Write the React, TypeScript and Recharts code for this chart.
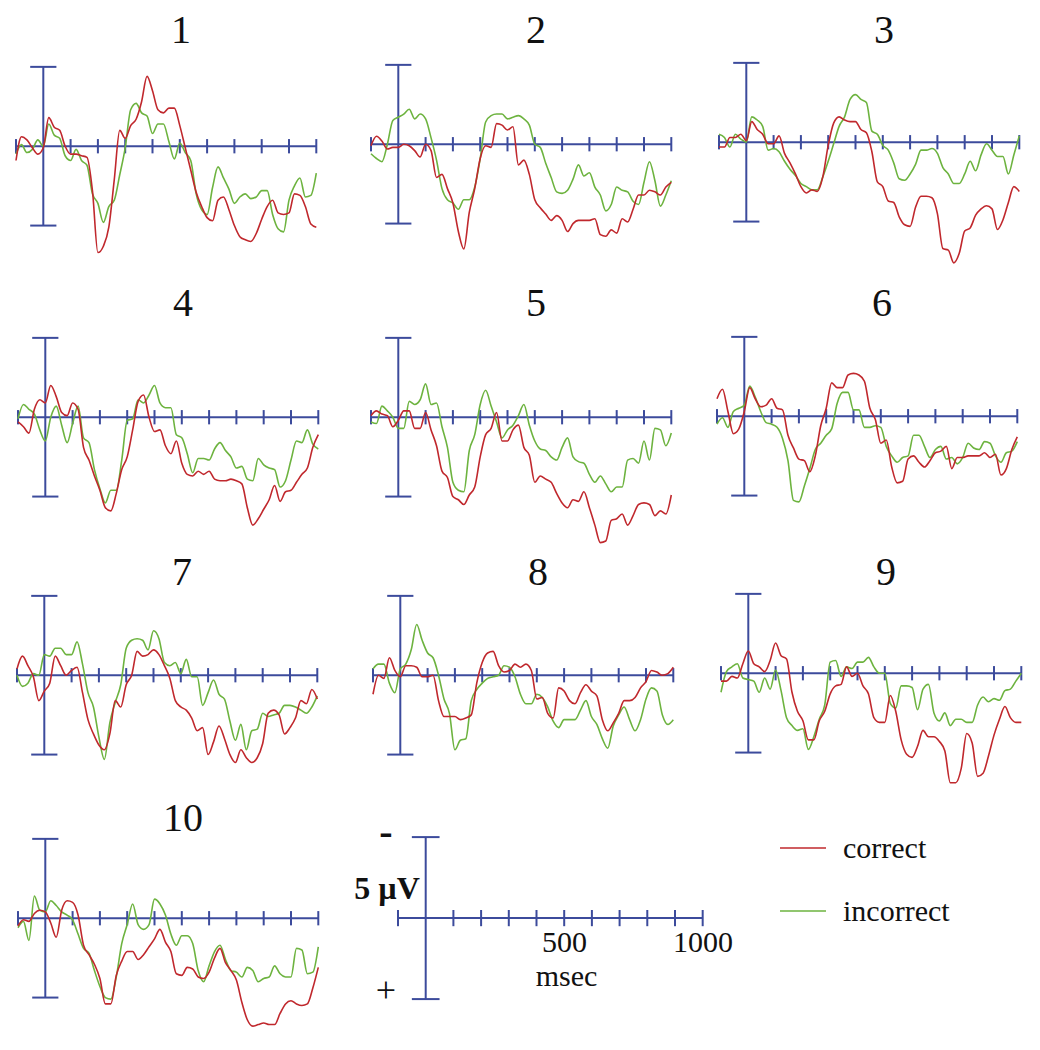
import { LineChart, Line, XAxis, YAxis, ReferenceLine } from 'recharts';

// time base shared by every panel (msec)
const TIME_MS = [
  -100, -80, -60, -40, -20, 0, 20, 40, 60, 80,
  100, 120, 140, 160, 180, 200, 220, 240, 260, 280,
  300, 320, 340, 360, 380, 400, 420, 440, 460, 480,
  500, 520, 540, 560, 580, 600, 620, 640, 660, 680,
  700, 720, 740, 760, 780, 800, 820, 840, 860, 880,
  900, 920, 940, 960, 980, 1000,
];

// amplitudes in µV, negative plotted up
const correct1 = [0.9, -0.6, -0.4, 0.1, 0.5, 0.1, -1.8, -1.2, -1.0, 0.0, 0.5, 0.5, 0.6, 0.7, 2.8, 6.7, 6.3, 5.1, 2.1, -1.0, -0.5, -1.3, -1.7, -2.8, -4.4, -3.5, -2.3, -2.1, -2.4, -2.4, -1.3, 0.1, 1.5, 2.9, 3.8, 4.5, 4.7, 3.4, 3.2, 4.0, 5.0, 5.7, 5.9, 6.0, 5.5, 4.6, 3.8, 3.4, 4.2, 4.3, 4.2, 3.0, 3.1, 3.8, 4.9, 5.1];
const incorrect1 = [0.5, -0.1, 0.4, 0.2, -0.4, 0.0, -1.4, -0.7, -0.5, 0.6, 0.9, 0.2, 0.9, 1.2, 3.0, 3.6, 4.8, 3.8, 3.4, 1.8, 0.1, -2.3, -2.7, -2.1, -1.9, -0.8, -1.4, -1.4, -0.3, 0.8, -0.2, 0.4, 0.9, 3.0, 4.0, 4.3, 2.6, 1.3, 2.0, 2.7, 3.6, 3.2, 3.0, 3.3, 3.2, 2.8, 2.8, 4.3, 5.2, 5.4, 3.4, 2.5, 2.0, 3.2, 3.1, 1.7];

const correct2 = [0.1, -0.5, -0.2, 0.3, 0.2, 0.2, 0.0, 0.1, 0.4, 0.8, 0.0, 0.4, 2.1, 1.9, 2.8, 3.7, 5.5, 6.6, 4.3, 2.8, 0.9, 0.1, 0.2, -1.3, -1.2, -0.9, -1.1, 1.3, 1.0, 1.9, 3.5, 4.0, 4.4, 4.8, 4.5, 4.8, 5.5, 5.0, 4.8, 4.8, 4.8, 4.7, 5.7, 5.8, 5.4, 5.6, 4.7, 4.9, 4.1, 3.2, 3.2, 2.9, 3.0, 3.2, 2.7, 2.4];
const incorrect2 = [0.6, 0.9, 1.1, 0.0, -1.5, -1.7, -1.9, -2.2, -1.6, -1.9, -1.6, -0.4, 1.0, 2.8, 3.5, 3.7, 4.1, 3.5, 3.5, 2.7, 0.9, -1.4, -1.8, -1.9, -1.9, -1.6, -1.7, -1.8, -1.6, -1.2, 0.0, 0.2, 1.2, 2.1, 3.0, 3.1, 2.9, 2.2, 1.3, 2.0, 1.8, 2.7, 3.2, 4.2, 3.8, 2.7, 2.9, 3.0, 3.6, 3.8, 2.4, 1.1, 2.3, 3.9, 3.2, 2.3];

const correct3 = [0.3, 0.3, -0.3, -0.3, -0.5, -0.1, -1.3, -0.8, -0.5, 0.1, 0.1, -0.4, 0.7, 1.3, 2.0, 2.8, 3.2, 3.0, 3.1, 2.2, 0.2, -1.2, -1.6, -1.4, -1.3, -1.3, -0.8, -0.6, 0.6, 2.5, 2.8, 3.7, 3.8, 4.7, 5.2, 5.3, 4.1, 3.4, 3.4, 3.5, 4.5, 6.7, 6.8, 7.6, 7.0, 5.6, 5.4, 4.6, 4.2, 4.0, 4.2, 5.5, 4.9, 3.8, 2.8, 3.1];
const incorrect3 = [-0.5, -0.3, 0.3, -0.5, -0.2, 0.0, -1.6, -1.4, -1.0, 0.5, 0.4, 0.6, 1.2, 1.7, 2.1, 2.6, 2.8, 3.0, 3.0, 2.2, 1.2, 0.1, -1.0, -1.6, -2.7, -3.0, -2.7, -2.5, -0.7, -0.5, 0.2, 0.5, 1.3, 2.3, 2.4, 2.0, 1.4, 0.5, 0.5, 0.4, 0.7, 1.6, 2.0, 2.6, 2.6, 2.0, 1.2, 1.8, 0.8, 0.1, 0.5, 0.9, 0.9, 2.0, 0.8, -0.4];

const correct4 = [0.3, 0.6, 1.0, -0.5, -1.1, -0.9, -2.0, -1.3, -0.3, -0.1, -0.9, -0.5, 1.9, 2.7, 3.7, 4.6, 5.7, 5.9, 4.8, 3.3, 2.5, 0.8, -1.0, -1.4, 0.0, 0.9, 0.8, 1.8, 2.3, 1.5, 2.9, 3.6, 3.7, 3.4, 3.6, 3.4, 3.9, 4.0, 4.0, 3.9, 4.0, 4.2, 5.7, 6.8, 6.4, 5.8, 5.2, 4.3, 5.3, 4.7, 4.6, 4.1, 3.6, 3.2, 1.9, 1.1];
const incorrect4 = [0.1, -0.8, -0.5, -0.2, 0.8, 1.5, 0.0, -0.7, 0.5, 1.6, 0.4, -0.7, 1.3, 1.6, 3.3, 4.5, 5.4, 4.6, 4.6, 2.7, 0.2, 0.1, -1.1, -0.9, -1.4, -2.0, -0.9, -0.6, -0.6, 1.1, 1.3, 2.3, 3.5, 2.6, 2.6, 2.7, 2.0, 1.6, 2.1, 2.5, 3.2, 3.1, 3.9, 4.0, 2.6, 3.0, 3.2, 3.3, 4.4, 4.0, 2.7, 1.5, 1.6, 0.8, 1.7, 2.0];

const correct5 = [-0.1, -0.4, -0.2, -0.1, 0.6, 0.2, -0.4, -0.4, 0.7, 0.7, -0.3, 0.8, 1.8, 3.4, 3.8, 5.0, 5.2, 5.5, 4.9, 4.4, 2.5, 1.1, 0.7, -0.3, 1.5, 1.5, 0.8, 0.5, 1.9, 2.4, 4.1, 3.7, 3.9, 4.1, 4.8, 5.4, 5.7, 5.2, 5.3, 4.7, 5.7, 6.8, 7.9, 7.8, 6.5, 6.4, 6.1, 6.8, 6.2, 5.5, 5.4, 5.5, 6.2, 5.9, 6.1, 4.9];
const incorrect5 = [0.3, 0.4, -0.7, -0.4, 0.0, 0.7, 0.7, -1.0, -0.8, -1.1, -2.1, -0.8, -0.9, 0.6, 1.9, 4.1, 4.6, 4.7, 2.1, 1.1, -0.8, -1.7, -0.7, 0.3, 1.3, 0.8, 0.5, -0.1, -0.8, 0.5, 1.5, 2.0, 2.1, 2.5, 2.7, 1.9, 1.3, 2.5, 2.8, 2.9, 3.6, 4.1, 3.7, 4.2, 4.7, 4.4, 4.4, 2.7, 2.6, 2.9, 1.5, 2.7, 0.7, 0.8, 1.8, 1.0];

const correct6 = [-1.1, -1.7, -0.3, 1.1, 0.8, -0.3, -1.8, -1.1, -0.6, -0.7, -1.1, -0.5, -0.4, 1.2, 2.0, 2.7, 2.8, 3.5, 2.5, 0.6, -0.5, -2.1, -1.8, -1.8, -2.6, -2.7, -2.6, -2.2, -0.5, 0.2, 1.7, 1.5, 3.2, 4.2, 4.1, 2.7, 2.5, 2.9, 3.2, 2.8, 2.3, 2.2, 1.9, 3.3, 2.6, 2.6, 2.5, 2.5, 2.5, 2.3, 2.6, 2.4, 3.7, 3.3, 2.1, 1.3];
const incorrect6 = [0.5, 0.1, 0.7, -0.3, -0.5, -0.7, -1.9, -1.2, -0.3, 0.4, 0.5, 0.7, 1.4, 2.8, 5.3, 5.4, 4.4, 3.3, 2.1, 1.7, 1.2, 0.8, -0.8, -1.5, -1.5, -0.4, -0.4, 0.7, 0.7, 0.6, 0.7, 1.9, 2.5, 2.9, 2.6, 2.5, 1.2, 1.2, 1.9, 2.6, 2.1, 1.9, 2.7, 2.6, 3.0, 2.6, 1.7, 2.0, 2.1, 1.6, 1.7, 2.5, 2.9, 2.3, 2.2, 1.6];

const correct7 = [-0.4, -1.2, -0.6, 0.1, 1.6, 1.0, 0.5, -1.2, -0.6, 0.0, -0.3, -0.5, 1.1, 2.8, 3.7, 4.4, 4.7, 3.7, 1.6, 2.0, 0.6, 0.0, -1.5, -1.2, -1.3, -1.6, -1.3, -0.6, 0.2, 1.6, 2.0, 2.2, 2.7, 3.5, 3.3, 5.0, 4.2, 3.2, 4.0, 5.0, 5.5, 4.7, 5.2, 5.5, 5.2, 4.3, 2.4, 2.2, 2.5, 3.7, 3.3, 2.7, 1.6, 1.8, 0.9, 1.5];
const incorrect7 = [0.0, 0.7, 0.5, -0.1, 0.0, -1.3, -1.2, -1.7, -1.7, -1.3, -1.3, -2.1, -0.7, 1.1, 2.0, 3.9, 5.3, 3.0, 1.7, 0.6, -1.7, -2.2, -2.3, -2.2, -1.6, -2.8, -2.3, -0.8, -0.6, -0.8, -0.1, -1.0, 0.1, 0.1, 1.9, 1.1, 0.3, 1.2, 1.5, 2.9, 4.1, 3.1, 4.7, 3.5, 3.4, 2.4, 2.6, 2.5, 2.4, 1.9, 1.9, 2.0, 2.2, 2.4, 2.0, 1.3];

const correct8 = [1.2, 0.0, 0.2, -1.1, -0.3, 0.1, -0.6, -0.6, -0.5, 0.1, 0.1, 0.0, 1.6, 2.6, 2.6, 2.6, 2.8, 2.7, 2.5, 0.5, -0.8, -1.4, -1.5, -0.6, -0.2, -0.3, -0.7, -0.5, -0.7, -0.3, 1.5, 1.4, 2.4, 2.7, 0.8, 1.0, 1.6, 1.8, 1.1, 0.6, 1.0, 1.3, 2.8, 3.5, 3.0, 2.4, 1.6, 1.6, 1.4, 0.8, 0.4, -0.3, -0.2, 0.0, -0.1, -0.5];
const incorrect8 = [-0.4, -0.7, -0.7, 0.5, 1.1, -0.4, -0.7, -1.6, -3.2, -2.2, -1.4, -1.1, 0.0, 1.5, 2.4, 4.7, 4.1, 4.0, 1.6, 0.9, 0.5, 0.2, 0.1, 0.0, -0.6, -0.5, 0.1, 1.2, 1.8, 1.8, 1.2, 1.4, 2.0, 2.9, 3.3, 2.8, 2.8, 2.8, 2.2, 1.6, 2.6, 3.1, 4.0, 4.6, 3.2, 2.5, 2.0, 2.8, 3.5, 2.8, 1.5, 0.8, 1.0, 2.5, 3.1, 2.8];

const correct9 = [0.5, 0.5, 0.2, 0.3, -0.6, -1.4, -0.6, -0.4, -0.1, -0.8, -1.9, -1.1, -0.9, 1.2, 2.4, 3.0, 4.2, 4.2, 3.0, 2.4, 1.3, 0.8, 0.7, -0.4, 0.2, 0.0, 0.8, 1.3, 2.8, 3.1, 3.1, 1.4, 2.4, 4.2, 5.1, 5.3, 4.6, 3.6, 4.0, 4.0, 4.3, 4.9, 6.9, 6.9, 6.0, 3.8, 4.4, 6.5, 6.3, 5.2, 3.9, 2.9, 2.1, 2.8, 3.1, 3.1];
const incorrect9 = [1.2, -0.1, -0.4, -0.6, 0.3, 0.4, 0.5, 1.2, 0.3, 1.0, -0.2, 1.1, 2.8, 3.3, 3.6, 3.5, 4.8, 4.0, 2.9, 2.0, -0.7, -0.8, 0.2, -0.4, -0.3, -0.7, -0.7, -1.0, -0.4, 0.0, 0.0, 1.9, 2.2, 0.8, 0.8, 0.9, 2.3, 1.0, 0.7, 2.5, 3.0, 2.5, 3.3, 2.9, 2.9, 3.1, 3.1, 2.0, 1.5, 1.8, 1.6, 1.7, 1.1, 1.0, 0.5, 0.0];

const correct10 = [0.5, 0.1, 0.2, -0.3, -0.5, -0.4, 0.3, 1.2, -0.5, -1.1, -1.0, -0.2, 1.7, 2.3, 2.9, 3.8, 5.4, 5.4, 3.6, 2.7, 2.1, 2.1, 2.6, 2.3, 1.8, 1.3, 0.7, 1.5, 2.1, 3.5, 3.6, 3.1, 3.2, 3.7, 3.8, 3.4, 2.5, 1.9, 2.8, 3.3, 3.9, 5.3, 6.4, 6.8, 6.7, 6.6, 6.7, 6.7, 6.0, 5.4, 5.2, 5.4, 5.5, 5.4, 4.4, 3.1];
const incorrect10 = [0.6, 0.2, 1.4, -1.4, -0.5, -0.4, -1.1, -0.8, -0.4, -0.2, 0.1, 1.0, 1.9, 2.2, 3.3, 4.3, 5.0, 5.1, 3.7, 1.6, 0.4, -0.9, 0.4, 0.7, 0.4, -1.2, -0.9, -0.2, 1.0, 1.7, 1.1, 1.1, 1.6, 3.3, 4.0, 3.0, 2.1, 1.7, 2.6, 3.3, 3.4, 3.7, 3.1, 3.3, 4.0, 3.8, 3.7, 3.0, 3.5, 3.7, 3.7, 1.9, 2.0, 3.5, 3.4, 1.8];

const PANEL_LABELS = ['1', '2', '3', '4', '5', '6', '7', '8', '9', '10'];
const CORRECT = [correct1, correct2, correct3, correct4, correct5, correct6, correct7, correct8, correct9, correct10];
const INCORRECT = [incorrect1, incorrect2, incorrect3, incorrect4, incorrect5, incorrect6, incorrect7, incorrect8, incorrect9, incorrect10];

const TICKS_MS = [-100, 0, 100, 200, 300, 400, 500, 600, 700, 800, 900, 1000];
// scale bar: only the two ends of the time axis, at 0 µV
const SCALE_TIME = [-100, 1000];
const SCALE_ZERO = [0, 0];

// layout: [x of the 0 ms axis, y of the 0 µV baseline] on the page
const PANEL_ORIGIN = [
  [43, 146], [398, 144], [746, 142],
  [45, 417], [398, 417], [744, 416],
  [44, 675], [400, 675], [748, 673],
  [45, 918],
];
const TITLE_Y = [30, 303, 572, 818];

const RED = '#c0282d';
const GREEN = '#6db33f';
const AXIS = '#3c4b9c';
const SERIF = '"Liberation Serif", "DejaVu Serif", serif';

const PX_PER_100MS = 27.3;
const PX_PER_UV = 15.87;
const M = 10;

function axisLines(cap: number, tick: number) {
  const items = [
    <ReferenceLine key="h" y={0} stroke={AXIS} strokeWidth={2} />,
    <ReferenceLine key="v" segment={[{ x: 0, y: -5 }, { x: 0, y: 5 }]} stroke={AXIS} strokeWidth={2} />,
    <ReferenceLine key="c1" segment={[{ x: -cap, y: -5 }, { x: cap, y: -5 }]} stroke={AXIS} strokeWidth={2} />,
    <ReferenceLine key="c2" segment={[{ x: -cap, y: 5 }, { x: cap, y: 5 }]} stroke={AXIS} strokeWidth={2} />,
  ];
  TICKS_MS.forEach((t) => {
    if (t === 0) return;
    items.push(
      <ReferenceLine key={'t' + t} segment={[{ x: t, y: -tick }, { x: t, y: tick }]} stroke={AXIS} strokeWidth={2} />
    );
  });
  return items;
}

function Panel({ idx }: { idx: number }) {
  const [ax, base] = PANEL_ORIGIN[idx];
  const data = TIME_MS.map((t, i) => ({ t, correct: CORRECT[idx][i], incorrect: INCORRECT[idx][i] }));
  const w = 11 * PX_PER_100MS;
  const h = 15 * PX_PER_UV;
  return (
    <>
      <div
        style={{
          position: 'absolute',
          left: ax + 138,
          top: TITLE_Y[Math.floor(idx / 3)],
          transform: 'translate(-50%, -50%)',
          fontFamily: SERIF,
          fontSize: 40,
          lineHeight: 1,
          color: '#111',
        }}
      >
        {PANEL_LABELS[idx]}
      </div>
      <div style={{ position: 'absolute', left: ax - PX_PER_100MS - M, top: base - 6 * PX_PER_UV - M }}>
        <LineChart width={w + 2 * M} height={h + 2 * M} data={data} margin={{ top: M, right: M, bottom: M, left: M }}>
          <XAxis type="number" dataKey="t" domain={[-100, 1000]} hide />
          <YAxis type="number" domain={[-6, 9]} reversed hide />
          {axisLines(48, 0.45)}
          <Line type="monotone" dataKey="incorrect" stroke={GREEN} strokeWidth={1.6} dot={false} isAnimationActive={false} />
          <Line type="monotone" dataKey="correct" stroke={RED} strokeWidth={1.6} dot={false} isAnimationActive={false} />
        </LineChart>
      </div>
    </>
  );
}

function ScaleBar() {
  const ax = 426;
  const base = 918;
  const pxMs = 27.7;
  const pxUv = 16.2;
  const data = SCALE_TIME.map((t, i) => ({ t, v: SCALE_ZERO[i] }));
  const label = (text: string, x: number, y: number, extra: object = {}) => (
    <div
      style={{
        position: 'absolute',
        left: x,
        top: y,
        transform: 'translate(-50%, -50%)',
        fontFamily: SERIF,
        fontSize: 30,
        lineHeight: 1,
        whiteSpace: 'nowrap',
        color: '#111',
        ...extra,
      }}
    >
      {text}
    </div>
  );
  return (
    <>
      <div style={{ position: 'absolute', left: ax - pxMs - M, top: base - 5.5 * pxUv - M }}>
        <LineChart
          width={11 * pxMs + 2 * M}
          height={11 * pxUv + 2 * M}
          data={data}
          margin={{ top: M, right: M, bottom: M, left: M }}
        >
          <XAxis type="number" dataKey="t" domain={[-100, 1000]} hide />
          <YAxis type="number" domain={[-5.5, 5.5]} reversed hide />
          <Line dataKey="v" stroke={AXIS} strokeWidth={2} dot={false} isAnimationActive={false} />
          {axisLines(50, 0.5)}
        </LineChart>
      </div>
      {label('500', ax + 5 * pxMs, 942)}
      {label('1000', ax + 10 * pxMs, 942)}
      {label('msec', ax + 5 * pxMs + 2, 976)}
      {label('5 µV', 387, 888, { fontWeight: 'bold', fontSize: 32 })}
      {label('-', 386, 832, { fontWeight: 'bold', fontSize: 40 })}
      {label('+', 386, 990, { fontSize: 36 })}
    </>
  );
}

function LegendBox() {
  const items = [
    { name: 'correct', color: RED, y: 848 },
    { name: 'incorrect', color: GREEN, y: 911 },
  ];
  return (
    <>
      {items.map((it) => (
        <div key={it.name} style={{ position: 'absolute', left: 780, top: it.y - 16, height: 32, display: 'flex', alignItems: 'center' }}>
          <svg width={46} height={4} style={{ display: 'block' }}>
            <line x1={0} y1={2} x2={46} y2={2} stroke={it.color} strokeWidth={1.6} />
          </svg>
          <span style={{ marginLeft: 17, fontFamily: SERIF, fontSize: 30, lineHeight: 1, color: '#111' }}>{it.name}</span>
        </div>
      ))}
    </>
  );
}

export default function App() {
  return (
    <div style={{ position: 'absolute', left: 0, top: 0, width: 1040, height: 1050, background: '#fff', overflow: 'hidden' }}>
      {PANEL_LABELS.map((_, i) => (
        <Panel key={i} idx={i} />
      ))}
      <ScaleBar />
      <LegendBox />
    </div>
  );
}
